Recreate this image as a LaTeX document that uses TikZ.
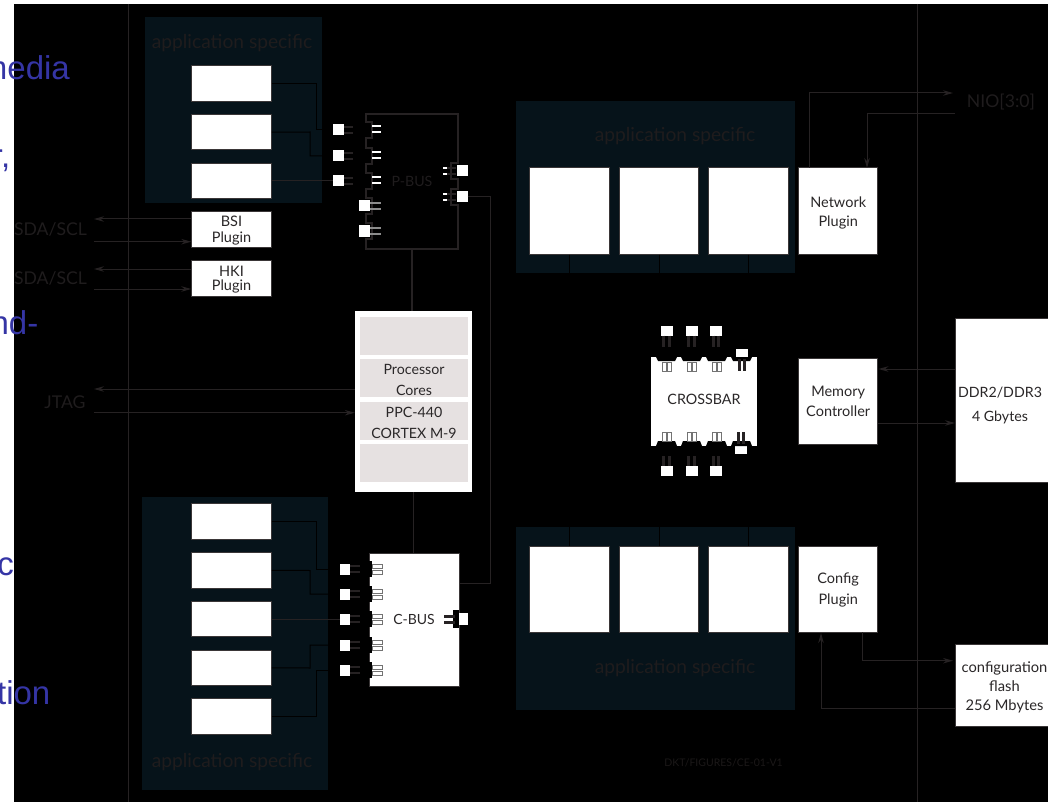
\documentclass[tikz,border=0pt]{standalone}
\usepackage{fontspec}
\setmainfont{Lato}
\newfontfamily\slidefont{Liberation Sans}
\definecolor{panelteal}{HTML}{06131A}
\definecolor{wire}{HTML}{262223}
\definecolor{dimtext}{HTML}{1F1C1D}
\definecolor{boxedge}{HTML}{3A3637}
\definecolor{inktext}{HTML}{2A2728}
\definecolor{coreband}{HTML}{E6E1E1}
\definecolor{slideblue}{HTML}{3535A5}
\usetikzlibrary{positioning,arrows.meta}

\begin{document}
\begin{tikzpicture}[
    x=1pt, y=-1pt,
    node distance=48.75pt,
    panel/.style={rectangle, fill=panelteal, inner sep=0pt},
    plainbox/.style={rectangle, fill=white, draw=boxedge, line width=1pt, inner sep=0pt, text=inktext, align=center, font=\fontsize{14.5}{17}\selectfont},
    rowbox/.style={plainbox, minimum width=79.5pt, minimum height=35.5pt},
    slotbox/.style={plainbox, minimum width=79.5pt, minimum height=86pt},
    band/.style={rectangle, fill=coreband, inner sep=0pt, minimum width=108pt, minimum height=38pt, text=inktext, align=center, font=\fontsize{14.2}{21.3}\selectfont},
    pinbox/.style={rectangle, fill=white, inner sep=0pt, minimum width=11pt, minimum height=11pt},
    darklabel/.style={text=dimtext, inner sep=0pt, font=\fontsize{17.6}{20}\selectfont},
    spec/.style={text=dimtext, inner sep=0pt, font=\fontsize{19.2}{24}\selectfont},
    bluetext/.style={text=slideblue, anchor=base east, inner sep=0pt, font=\slidefont\fontsize{33}{36}\selectfont},
    wireline/.style={draw=wire, line width=1pt},
    hiddenline/.style={draw=black, line width=1pt},
    busline/.style={draw=wire, line width=1.5pt},
    stub/.style={draw=wire, line width=2pt},
    widestub/.style={draw=wire, line width=3pt},
    brightstub/.style={draw=white, line width=2pt},
    greystub/.style={draw=black!45, line width=1.5pt},
    socket/.style={draw=black!55, fill=white, line width=.8pt},
    arrow/.style={draw=wire, line width=1pt, -{Stealth[length=10pt,width=5.5pt]}}
]
\useasboundingbox (0,0) rectangle (1048,802);

% Background
\fill [white] (0,0) rectangle (1048,802);
\fill [black] (14,4) rectangle (1048,802);
\coordinate (railatop) at (128,4);
\coordinate (railabot) at (128,802);
\coordinate (railbtop) at (917,4);
\coordinate (railbbot) at (917,802);
\draw [wireline] (railatop) -- (railabot);
\draw [wireline] (railbtop) -- (railbbot);

% Panels
\node (ptopleft) [panel, minimum width=177pt, minimum height=186pt] at (233.5,110) {};
\node (pbotleft) [panel, minimum width=186pt, minimum height=293pt] at (235,643.5) {};
\node (ptopright) [panel, minimum width=279pt, minimum height=172pt] at (655.5,187) {};
\node (pbotright) [panel, minimum width=279pt, minimum height=183pt] at (655.5,618.5) {};
\node (lblone) [spec] at (232,43) {application specific};
\node (lbltwo) [spec] at (232,762) {application specific};
\node (lblthree) [spec] at (675,136) {application specific};
\node (lblfour) [spec] at (675,668) {application specific};

% Nodes, upper left
\node (tone) [rowbox] at (231.5,83.5) {};
\node (ttwo) [rowbox, below of=tone] {};
\node (tthree) [rowbox, below of=ttwo] {};
\node (bsi) [rowbox, below of=tthree, font=\fontsize{14.5}{16}\selectfont] {\rule{0pt}{12.5pt}BSI\\Plugin};
\node (hki) [rowbox, below of=bsi, font=\fontsize{14.5}{13.5}\selectfont] {\rule{0pt}{12.5pt}HKI\\Plugin};

% Nodes, lower left
\node (bone) [rowbox] at (231.5,521.5) {};
\node (btwo) [rowbox, below of=bone] {};
\node (bthree) [rowbox, below of=btwo] {};
\node (bfour) [rowbox, below of=bthree] {};
\node (bfive) [rowbox, below of=bfour] {};

% Nodes, upper right
\node (uone) [slotbox] at (569.7,211) {};
\node (utwo) [slotbox, right of=uone, node distance=89.5pt] {};
\node (uthree) [slotbox, right of=utwo, node distance=89.5pt] {};
\node (network) [slotbox, right of=uthree, node distance=89.5pt, font=\fontsize{14.5}{19}\selectfont] {\rule{0pt}{14.5pt}Network\\Plugin};

% Nodes, lower right
\node (lone) [slotbox] at (569.7,589) {};
\node (ltwo) [slotbox, right of=lone, node distance=89.5pt] {};
\node (lthree) [slotbox, right of=ltwo, node distance=89.5pt] {};
\node (config) [slotbox, right of=lthree, node distance=89.5pt, font=\fontsize{14.5}{21}\selectfont] {\rule{0pt}{12.5pt}Config\\Plugin};

% Nodes, right column
\node (memory) [slotbox, font=\fontsize{14.5}{20}\selectfont] at (838.2,401) {Memory\\Controller};
\node (ddr) [plainbox, minimum width=94pt, minimum height=164pt, font=\fontsize{14.2}{24}\selectfont] at (1002.5,400) {\rule{0pt}{20.5pt}\hspace*{-5pt}DDR2/DDR3\\\hspace*{-5pt}4 Gbytes};
\node (flash) [plainbox, minimum width=98pt, minimum height=82pt, font=\fontsize{14.7}{18.8}\selectfont] at (1004.5,685) {\rule{0pt}{16pt}configuration\\flash\\256 Mbytes};

% Processor block
\node (proc) [rectangle, fill=white, inner sep=0pt, minimum width=117pt, minimum height=181pt] at (413.5,401.5) {};
\node (bandone) [band] at (414,336) {};
\node (bandtwo) [band] at (414,378) {\rule{0pt}{14pt}Processor\\Cores};
\node (bandthree) [band] at (414,421) {\rule{0pt}{14pt}PPC-440\\CORTEX M-9};
\node (bandfour) [band] at (414,463) {};

% Buses and crossbar
\node (pbus) [darklabel, minimum width=92pt, minimum height=135pt, font=\fontsize{14.2}{17}\selectfont] at (412,181.5) {P-BUS};
\node (cbus) [plainbox, minimum width=90pt, minimum height=133pt, font=\fontsize{14}{17}\selectfont] at (414,619.5) {C-BUS};
\node (xbar) [plainbox, draw=none, minimum width=106.5pt, minimum height=88.5pt, font=\fontsize{14.3}{17}\selectfont] at (704,401.5) {\rule[-4pt]{0pt}{4pt}CROSSBAR};

% Free labels
\coordinate (sdaoa) at (94,219);
\coordinate (sdaob) at (94,241.7);
\coordinate (sdata) at (94,269);
\coordinate (sdatb) at (94,289);
\coordinate (jtaga) at (94,389);
\coordinate (jtagb) at (94,412.7);
\coordinate (nioout) at (953,93);
\coordinate (nioin) at (955,114);
\coordinate (flashout) at (953,660.7);
\node (sdaone) [darklabel] at (50.5,229) {SDA/SCL};
\node (sdatwo) [darklabel] at (50.5,278.5) {SDA/SCL};
\node (jtag) [darklabel] at (65,402) {JTAG};
\node (nio) [darklabel] at (1001,102) {NIO[3:0]};
\node (figref) [text=wire!70!black, inner sep=0pt, font=\fontsize{10.5}{12}\selectfont] at (723.5,763) {DKT/FIGURES/CE-01-V1};

% Pins
\node (pinpa) [pinbox] at (338.5,130) {};
\node (pinpb) [pinbox, below of=pinpa, node distance=26pt] {};
\node (pinpc) [pinbox, below of=pinpb, node distance=25pt] {};
\node (pinpd) [pinbox] at (364.5,206) {};
\node (pinpe) [pinbox, below of=pinpd, node distance=25pt] {};
\node (pinpf) [pinbox] at (462,171) {};
\node (pinpg) [pinbox, below of=pinpf, node distance=26pt] {};
\node (pinca) [pinbox, minimum width=10pt] at (345,569) {};
\node (pincb) [pinbox, minimum width=10pt, below of=pinca, node distance=25pt] {};
\node (pincc) [pinbox, minimum width=10pt, below of=pincb, node distance=25pt] {};
\node (pincd) [pinbox, minimum width=10pt, below of=pincc, node distance=26pt] {};
\node (pince) [pinbox, minimum width=10pt, below of=pincd, node distance=25pt] {};
\node (pincf) [pinbox, minimum height=12pt] at (462.5,619) {};
\node (pinxa) [pinbox, minimum width=12pt, minimum height=10pt] at (666.5,330.5) {};
\node (pinxb) [pinbox, minimum width=12pt, minimum height=10pt, right of=pinxa, node distance=25pt] {};
\node (pinxc) [pinbox, minimum width=12pt, minimum height=10pt, right of=pinxb, node distance=24.5pt] {};
\node (pinxd) [pinbox, minimum width=12pt, minimum height=10pt] at (742,354) {};
\node (pinxe) [pinbox, minimum width=12pt, minimum height=10pt] at (666.5,471) {};
\node (pinxf) [pinbox, minimum width=12pt, minimum height=10pt, right of=pinxe, node distance=25pt] {};
\node (pinxg) [pinbox, minimum width=12pt, minimum height=10pt, right of=pinxf, node distance=24.5pt] {};
\node (pinxh) [pinbox, minimum width=12pt, minimum height=10pt] at (741,449) {};

% P-BUS outline
\draw [busline] (366,114) -- (366,122) -- (372,122) -- (372,138) -- (366,138) -- (366,148) -- (372,148) -- (372,164) -- (366,164) -- (366,173) -- (372,173) -- (372,189) -- (366,189) -- (366,198) -- (372,198) -- (372,214) -- (366,214) -- (366,223) -- (372,223) -- (372,239) -- (366,239) -- (366,249) -- (458,249) -- (458,205) -- (451,205) -- (451,189) -- (458,189) -- (458,179) -- (451,179) -- (451,163) -- (458,163) -- (458,114) -- cycle;

% P-BUS stubs
\draw [stub] ([yshift=3pt]pinpa.east) -- ++(9,0) ([yshift=-3pt]pinpa.east) -- ++(9,0);
\draw [stub] ([yshift=3pt]pinpb.east) -- ++(9,0) ([yshift=-3pt]pinpb.east) -- ++(9,0);
\draw [stub] ([yshift=3pt]pinpc.east) -- ++(9,0) ([yshift=-3pt]pinpc.east) -- ++(9,0);
\draw [brightstub] (372,126) -- (381,126) (372,132.3) -- (381,132.3);
\draw [brightstub] (372,152) -- (381,152) (372,158) -- (381,158);
\draw [brightstub] (372,177) -- (381,177) (372,183) -- (381,183);
\draw [greystub] ([yshift=3pt]pinpd.east) -- ++(11,0) ([yshift=-3pt]pinpd.east) -- ++(11,0);
\draw [greystub] ([yshift=3pt]pinpe.east) -- ++(11,0) ([yshift=-3pt]pinpe.east) -- ++(11,0);
\draw [stub] ([yshift=3pt]pinpf.west) -- ++(-10,0) ([yshift=-3pt]pinpf.west) -- ++(-10,0);
\draw [stub] ([yshift=3pt]pinpg.west) -- ++(-10,0) ([yshift=-3pt]pinpg.west) -- ++(-10,0);
\draw [brightstub] (443,168) -- (447,168) (443,174) -- (447,174);
\draw [brightstub] (443,194) -- (447,194) (443,200) -- (447,200);

% C-BUS sockets
\fill [black] (369,561) rectangle (372,577);
\fill [black] (369,586) rectangle (372,602);
\fill [black] (369,611) rectangle (372,627);
\fill [black] (369,637) rectangle (372,653);
\fill [black] (369,662) rectangle (372,678);
\fill [black] (453,610) rectangle (459,628);
\draw [stub] ([yshift=3pt]pinca.east) -- ++(10,0) ([yshift=-3pt]pinca.east) -- ++(10,0);
\draw [stub] ([yshift=3pt]pincb.east) -- ++(10,0) ([yshift=-3pt]pincb.east) -- ++(10,0);
\draw [stub] ([yshift=3pt]pincc.east) -- ++(10,0) ([yshift=-3pt]pincc.east) -- ++(10,0);
\draw [stub] ([yshift=3pt]pincd.east) -- ++(10,0) ([yshift=-3pt]pincd.east) -- ++(10,0);
\draw [stub] ([yshift=3pt]pince.east) -- ++(10,0) ([yshift=-3pt]pince.east) -- ++(10,0);
\draw [socket] (372,564) rectangle (382,568) (372,570) rectangle (382,574);
\draw [socket] (372,589) rectangle (382,593) (372,595) rectangle (382,599);
\draw [socket] (372,614) rectangle (382,618) (372,620) rectangle (382,624);
\draw [socket] (372,640) rectangle (382,644) (372,646) rectangle (382,650);
\draw [socket] (372,665) rectangle (382,669) (372,671) rectangle (382,675);
\draw [widestub] (444,616) -- (455,616) (444,622) -- (455,622);

% Crossbar notches
\fill [black] (656,357) -- (658,361) -- (675,361) -- (677,357) -- cycle;
\fill [black] (681,357) -- (683,361) -- (700,361) -- (702,357) -- cycle;
\fill [black] (706,357) -- (708,361) -- (725,361) -- (727,357) -- cycle;
\fill [black] (731,357) -- (733,361) -- (750,361) -- (752,357) -- cycle;
\fill [black] (656,446) -- (658,441) -- (675,441) -- (677,446) -- cycle;
\fill [black] (681,446) -- (683,441) -- (700,441) -- (702,446) -- cycle;
\fill [black] (706,446) -- (708,441) -- (725,441) -- (727,446) -- cycle;
\fill [black] (731,446) -- (733,441) -- (750,441) -- (752,446) -- cycle;

% Crossbar stubs
\draw [widestub] ([xshift=-2.7pt]pinxa.south) -- ++(0,11) ([xshift=2.7pt]pinxa.south) -- ++(0,11);
\draw [widestub] ([xshift=-2.7pt]pinxb.south) -- ++(0,11) ([xshift=2.7pt]pinxb.south) -- ++(0,11);
\draw [widestub] ([xshift=-2.7pt]pinxc.south) -- ++(0,11) ([xshift=2.7pt]pinxc.south) -- ++(0,11);
\draw [widestub] ([xshift=-2.7pt]pinxd.south) -- ++(0,12) ([xshift=2.7pt]pinxd.south) -- ++(0,12);
\draw [widestub] ([xshift=-2.7pt]pinxe.north) -- ++(0,-10) ([xshift=2.7pt]pinxe.north) -- ++(0,-10);
\draw [widestub] ([xshift=-2.7pt]pinxf.north) -- ++(0,-10) ([xshift=2.7pt]pinxf.north) -- ++(0,-10);
\draw [widestub] ([xshift=-2.7pt]pinxg.north) -- ++(0,-10) ([xshift=2.7pt]pinxg.north) -- ++(0,-10);
\draw [widestub] ([xshift=-2.7pt]pinxh.north) -- ++(0,-12) ([xshift=2.7pt]pinxh.north) -- ++(0,-12);
\draw [socket] (662,362) rectangle (666.3,371) (667.5,362) rectangle (671.8,371);
\draw [socket] (687,362) rectangle (691.3,371) (692.5,362) rectangle (696.8,371);
\draw [socket] (712,362) rectangle (716.3,371) (717.5,362) rectangle (721.8,371);
\draw [socket] (662,432) rectangle (666.3,441) (667.5,432) rectangle (671.8,441);
\draw [socket] (687,432) rectangle (691.3,441) (692.5,432) rectangle (696.8,441);
\draw [socket] (712,432) rectangle (716.3,441) (717.5,432) rectangle (721.8,441);

% Arrows
\draw [hiddenline] (tone.east) -- (316,83.5) -- (316,130) -- (pinpa.west);
\draw [hiddenline] (ttwo.east) -- (310,132) -- (310,156) -- (pinpb.west);
\draw [wireline] (tthree.east) -- (pinpc.west);
\draw [hiddenline] (bone.east) -- (316,521.5) -- (316,569) -- (pinca.west);
\draw [hiddenline] (btwo.east) -- (310,570.5) -- (310,594) -- (pincb.west);
\draw [wireline] (bthree.east) -- (pincc.west);
\draw [hiddenline] (bfour.east) -- (310,668) -- (310,645) -- (pincd.west);
\draw [hiddenline] (bfive.east) -- (316,716.5) -- (316,670) -- (pince.west);
\draw [hiddenline] (uone.south) -- (uone.south |- ptopright.south);
\draw [hiddenline] (utwo.south) -- (utwo.south |- ptopright.south);
\draw [hiddenline] (uthree.south) -- (uthree.south |- ptopright.south);
\draw [hiddenline] (lone.north) -- (lone.north |- pbotright.north);
\draw [hiddenline] (ltwo.north) -- (ltwo.north |- pbotright.north);
\draw [hiddenline] (lthree.north) -- (lthree.north |- pbotright.north);
\draw [busline] (pbus.south) -- (proc.north -| pbus.south);
\draw [busline] (proc.south) -- (cbus.north -| proc.south);
\draw [wireline] (pinpg.east) -| (490,583.7) -- (cbus.east |- 490,583.7);
\draw [arrow] (bsi.west |- sdaoa) -- (sdaoa);
\draw [arrow] (sdaob) -- (bsi.west |- sdaob);
\draw [arrow] (hki.west |- sdata) -- (sdata);
\draw [arrow] (sdatb) -- (hki.west |- sdatb);
\draw [arrow] (proc.west |- jtaga) -- (jtaga);
\draw [arrow] (jtagb) -- (proc.west |- jtagb);
\draw [arrow] (809,168) |- (nioout);
\draw [arrow] (nioin) -| (867,168);
\draw [arrow] (memory.east |- 880,423) -- (ddr.west |- 880,423);
\draw [arrow] (ddr.west |- 880,369) -- (memory.east |- 880,369);
\draw [arrow] (862.5,632) |- (flashout);
\draw [arrow] (flash.west |- 821,708) -| (821,633);

% Slide text
\node (txtone) [bluetext] at (70,80) {media};
\node (txttwo) [bluetext] at (10.5,168) {r,};
\node (txtthree) [bluetext] at (38.5,334) {nd-};
\node (txtfour) [bluetext] at (14,575) {c};
\node (txtfive) [bluetext] at (50.5,704) {tion};
\end{tikzpicture}
\end{document}
